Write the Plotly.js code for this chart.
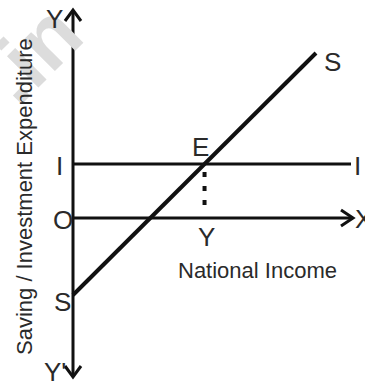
<!DOCTYPE html>
<html>
<head>
<meta charset="utf-8">
<script src="https://cdn.plot.ly/plotly-3.0.1.min.js"></script>
<style>
  html, body { margin: 0; padding: 0; background: #fff; }
  #chart { width: 365px; height: 385px; }
</style>
</head>
<body>
<div id="chart"></div>
<script>
// Saving and investment schedules against national income (origin O = 0,0)
const savingIncome = [0, 243];      // national income at the two ends of the S line
const savingLevel = [-77, 165];     // saving at those incomes
const investmentIncome = [0, 278];  // autonomous investment spans the income axis
const investmentLevel = 54;         // I, constant
const incomeAxisEnd = 280;          // X arrow tip
const verticalAxisTop = 208;        // Y arrow tip
const verticalAxisBottom = -159;    // Y' arrow tip

// equilibrium E where saving equals investment
const slope = (savingLevel[1] - savingLevel[0]) / (savingIncome[1] - savingIncome[0]);
const eqIncome = (investmentLevel - savingLevel[0]) / slope;

const ink = '#111';
const traces = [];

function seg(xs, ys, width, dash) {
  traces.push({
    x: xs, y: ys, mode: 'lines', hoverinfo: 'skip', showlegend: false,
    line: { color: ink, width: width, dash: dash || 'solid' }
  });
}

// vertical axis with open arrowheads at both ends
seg([0, 0], [verticalAxisBottom, verticalAxisTop], 3);
seg([-8, 0, 8], [verticalAxisTop - 11, verticalAxisTop, verticalAxisTop - 11], 3);
seg([-8, 0, 8], [verticalAxisBottom + 11, verticalAxisBottom, verticalAxisBottom + 11], 3);
// income axis with arrowhead
seg([0, incomeAxisEnd], [0, 0], 3);
seg([incomeAxisEnd - 12, incomeAxisEnd, incomeAxisEnd - 12], [8, 0, -8], 3);
// investment line
seg(investmentIncome, [investmentLevel, investmentLevel], 3);
// saving line
seg(savingIncome, savingLevel, 4);
// dotted drop from E to the income axis
seg([eqIncome, eqIncome], [investmentLevel - 8, 4], 4, '5px,9px');

const family = 'Liberation Sans, Arial, sans-serif';
const labelFont = { family: family, size: 26, color: '#2a2a2a' };
function label(text, x, y, font) {
  return { text: text, x: x, y: y, xref: 'x', yref: 'y', showarrow: false,
           xanchor: 'center', yanchor: 'middle', font: font || labelFont };
}

const annotations = [
  // faint site watermark
  { text: '.in', x: -41, y: 165, xref: 'x', yref: 'y', showarrow: false, textangle: -45,
    font: { family: family, size: 84, weight: 'bold', color: '#dcdcdc' } },
  { text: 'Saving / Investment Expenditure', x: -49, y: 21, xref: 'x', yref: 'y',
    showarrow: false, textangle: -90, xanchor: 'center', yanchor: 'middle',
    font: { family: family, size: 22, color: '#2a2a2a' } },
  label('Y', -19, 199),
  label("Y'", -18, -154),
  label('I', -14, investmentLevel - 2),
  label('O', -10, -2),
  label('S', -11, savingLevel[0] - 7),
  label('E', eqIncome - 4, investmentLevel + 17),
  label('Y', eqIncome + 2, -19),
  label('I', 284, investmentLevel - 2),
  label('X', 290, -1),
  label('S', 259, 156),
  label('National Income', 184, -52, { family: family, size: 22, color: '#2a2a2a' })
];

const layout = {
  width: 365, height: 385,
  margin: { l: 0, r: 0, t: 0, b: 0 },
  paper_bgcolor: '#fff', plot_bgcolor: '#fff',
  showlegend: false,
  xaxis: { range: [-73, 292], visible: false, fixedrange: true },
  yaxis: {
    range: [-167, 218], fixedrange: true,
    showgrid: false, zeroline: false, showticklabels: false, showline: false, ticks: ''
  },
  annotations: annotations
};

Plotly.newPlot('chart', traces, layout, { staticPlot: true, displayModeBar: false });
</script>
</body>
</html>
